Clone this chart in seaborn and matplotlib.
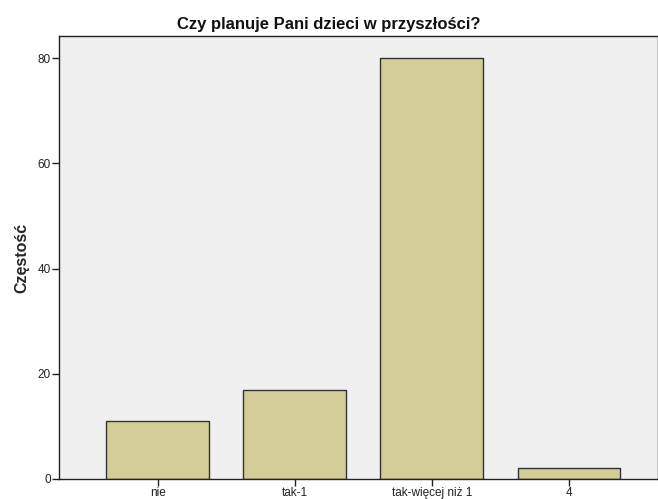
import pandas as pd
import seaborn as sns
import matplotlib.pyplot as plt

# answers and counts
categories = ["nie", "tak-1", "tak-więcej niż 1", "4"]
counts = [11, 17, 80, 2]
yticks = [0, 20, 40, 60, 80]

df = pd.DataFrame({"odp": categories, "n": counts})

sns.set_style("white")
plt.rcParams["font.family"] = ["Liberation Sans", "DejaVu Sans"]

fig = plt.figure(figsize=(6.58, 4.99), dpi=100)
ax = fig.add_axes([0.0897, 0.0401, 0.9103, 0.8878])
ax.set_facecolor("#f0f0f0")

sns.barplot(data=df, x="odp", y="n", color="#d3ce97", width=0.75,
            edgecolor="#333333", linewidth=1.0, saturation=1, ax=ax)

ax.set_xlim(-0.72, 3.65)
ax.set_ylim(0, 84.2)
ax.set_yticks(yticks)
ax.set_xlabel("")
ax.set_ylabel("Częstość", fontsize=11.5, fontweight="bold", labelpad=6)
# title sits over the whole figure, not just the axes
fig.text(0.5, 0.95, "Czy planuje Pani dzieci w przyszłości?", fontsize=12,
         fontweight="bold", ha="center", va="center", color="#111111")

ax.tick_params(axis="both", direction="out", length=5, width=1, color="#222222",
               labelsize=8.5, labelcolor="#222222", bottom=True, left=True, pad=1)
for side in ["left", "bottom", "top", "right"]:
    ax.spines[side].set_color("#222222")
    ax.spines[side].set_linewidth(1)

fig.savefig("out.png", dpi=100, facecolor="white")
